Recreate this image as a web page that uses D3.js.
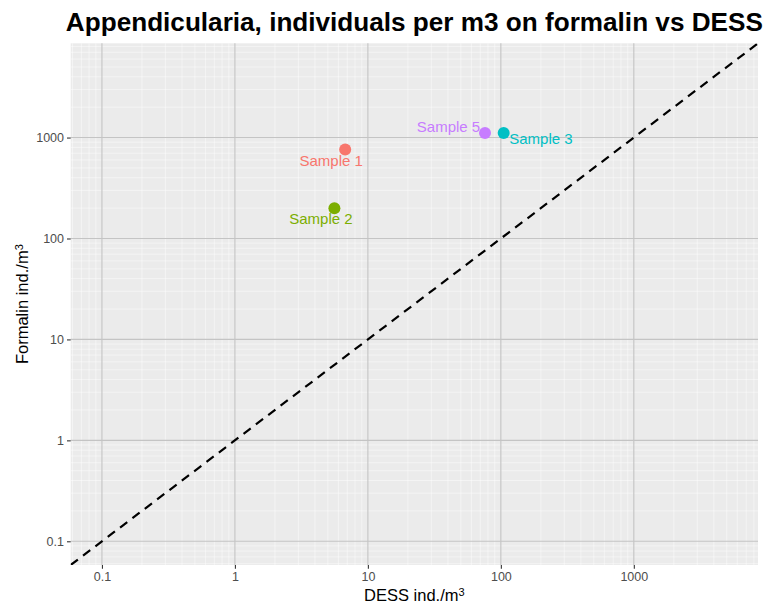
<!DOCTYPE html>
<html><head><meta charset="utf-8">
<script src="https://cdn.jsdelivr.net/npm/d3@7"></script>
<style>body{margin:0;background:#fff;} text{font-family:"Liberation Sans",Arial,sans-serif;}</style>
</head><body><svg id="c" width="766" height="607"></svg>
<script>
// ---- data ----
const samples = ["Sample 1", "Sample 2", "Sample 3", "Sample 5"];
const dess = [6.75, 5.6, 105, 76];
const formalin = [760, 199, 1110, 1110];
const colors = ["#F8766D", "#7CAE00", "#00BFC4", "#C77CFF"];
const tickValues = [0.1, 1, 10, 100, 1000];
const tickLabels = ["0.1", "1", "10", "100", "1000"];
const limits = [0.1, 5000];
const titleText = "Appendicularia, individuals per m3 on formalin vs DESS";
const xTitle = "DESS ind./m";
const yTitle = "Formalin ind./m";
// label nudges in px (layout)
const labelDx = [-14, -13.5, 37.3, -36.5];
const labelDy = [10.7, 10, 5.6, -6];

// ---- layout ----
const P = {l: 70.7, r: 758, t: 43.3, b: 565};
const svg = d3.select("#c");
const lo = Math.log10(limits[0]), hi = Math.log10(limits[1]);
const ex = (hi - lo) * 0.05;
const dom = [Math.pow(10, lo - ex), Math.pow(10, hi + ex)];
const x = d3.scaleLog().domain(dom).range([P.l, P.r]);
const y = d3.scaleLog().domain(dom).range([P.b, P.t]);

svg.append("rect").attr("width", 766).attr("height", 607).attr("fill", "#fff");
svg.append("rect").attr("x", P.l).attr("y", P.t).attr("width", P.r - P.l).attr("height", P.b - P.t).attr("fill", "#EBEBEB");

const minor = [];
for (let n = -2; n <= 4; n++) for (let k = 2; k <= 9; k++) {
  const v = k * Math.pow(10, n);
  if (v > dom[0] && v < dom[1]) minor.push(v);
}
const g = svg.append("g");
g.selectAll(".mvx").data(minor).join("line")
  .attr("x1", d => x(d)).attr("x2", d => x(d)).attr("y1", P.t).attr("y2", P.b)
  .attr("stroke", "#fff").attr("stroke-width", 0.55).attr("stroke-opacity", 0.85);
g.selectAll(".mhy").data(minor).join("line")
  .attr("y1", d => y(d)).attr("y2", d => y(d)).attr("x1", P.l).attr("x2", P.r)
  .attr("stroke", "#fff").attr("stroke-width", 0.55).attr("stroke-opacity", 0.85);
g.selectAll(".Mvx").data(tickValues).join("line")
  .attr("x1", d => x(d)).attr("x2", d => x(d)).attr("y1", P.t).attr("y2", P.b)
  .attr("stroke", "#C4C4C4").attr("stroke-width", 1.1);
g.selectAll(".Mhy").data(tickValues).join("line")
  .attr("y1", d => y(d)).attr("y2", d => y(d)).attr("x1", P.l).attr("x2", P.r)
  .attr("stroke", "#C4C4C4").attr("stroke-width", 1.1);

// axes
const fmt = d => tickLabels[tickValues.indexOf(d)];
const xAxis = d3.axisBottom(x).tickValues(tickValues).tickFormat(fmt).tickSize(3.7).tickPadding(3);
const yAxis = d3.axisLeft(y).tickValues(tickValues).tickFormat(fmt).tickSize(3.7).tickPadding(3);
const gx = svg.append("g").attr("transform", `translate(0,${P.b})`).call(xAxis);
const gy = svg.append("g").attr("transform", `translate(${P.l},0)`).call(yAxis);
[gx, gy].forEach(a => {
  a.select(".domain").remove();
  a.selectAll(".tick line").attr("stroke", "#333").attr("stroke-width", 1.1);
  a.selectAll(".tick text").attr("fill", "#4D4D4D").style("font-size", "12.5px")
    .style("font-family", '"Liberation Sans",Arial,sans-serif');
});

// clip
svg.append("clipPath").attr("id", "pc").append("rect")
  .attr("x", P.l).attr("y", P.t).attr("width", P.r - P.l).attr("height", P.b - P.t);

// y = x dashed line
svg.append("line").attr("clip-path", "url(#pc)")
  .attr("x1", x(dom[0])).attr("y1", y(dom[0])).attr("x2", x(dom[1])).attr("y2", y(dom[1]))
  .attr("stroke", "#000").attr("stroke-width", 2.2).attr("stroke-dasharray", "9,6.5");

// points
const idx = d3.range(samples.length);
svg.append("g").selectAll("circle").data(idx).join("circle")
  .attr("cx", i => x(dess[i])).attr("cy", i => y(formalin[i])).attr("r", 6)
  .attr("fill", i => colors[i]);

// labels
svg.append("g").selectAll("text").data(idx).join("text")
  .attr("x", i => x(dess[i]) + labelDx[i]).attr("y", i => y(formalin[i]) + labelDy[i])
  .attr("dy", "0.36em").attr("text-anchor", "middle")
  .attr("fill", i => colors[i]).style("font-size", "15px").text(i => samples[i]);

// title
svg.append("text").attr("x", (P.l + P.r) / 2).attr("y", 31).attr("text-anchor", "middle")
  .style("font-size", "26px").style("font-weight", "bold").attr("fill", "#000")
  .attr("textLength", 697).attr("lengthAdjust", "spacingAndGlyphs").text(titleText);

// axis titles
const xt = svg.append("text").attr("x", (P.l + P.r) / 2).attr("y", 601).attr("text-anchor", "middle")
  .style("font-size", "16.5px").attr("fill", "#000");
xt.append("tspan").text(xTitle);
xt.append("tspan").attr("dy", "-0.5em").style("font-size", "11px").text("3");

const yt = svg.append("text").attr("transform", `translate(28,${(P.t + P.b) / 2}) rotate(-90)`)
  .attr("text-anchor", "middle").style("font-size", "16.5px").attr("fill", "#000");
yt.append("tspan").text(yTitle);
yt.append("tspan").attr("dy", "-0.5em").style("font-size", "11px").text("3");
</script></body></html>
